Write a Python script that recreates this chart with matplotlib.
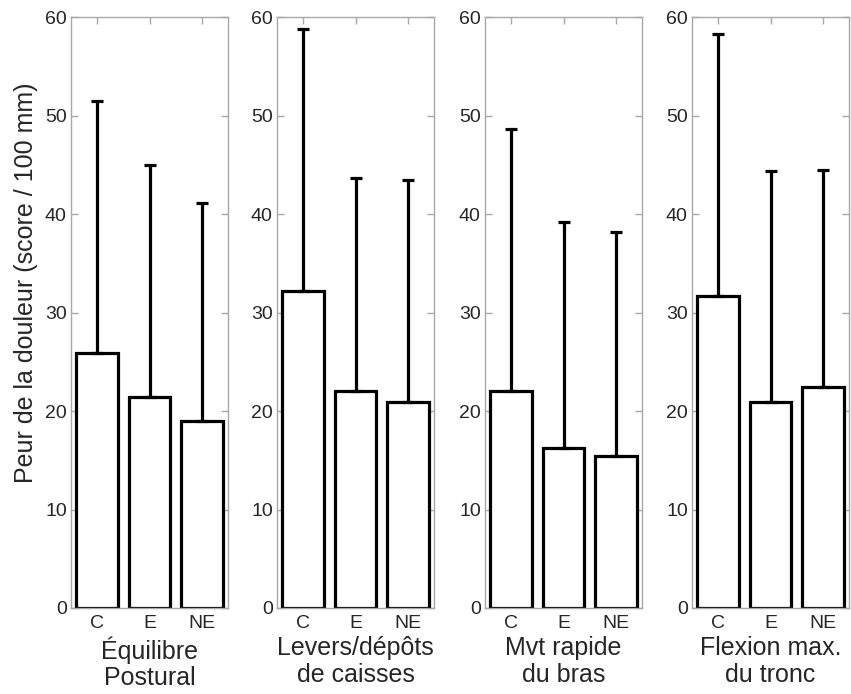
import matplotlib.pyplot as plt
import numpy as np

# ================= données =================
groupes = ['C', 'E', 'NE']
taches = ['Équilibre\nPostural', 'Levers/dépôts\nde caisses',
          'Mvt rapide\ndu bras', 'Flexion max.\ndu tronc']
moyennes = [
    [25.9, 21.4, 19.0],
    [32.2, 22.0, 20.9],
    [22.0, 16.2, 15.4],
    [31.7, 20.9, 22.4],
]
ecarts_types = [
    [25.6, 23.6, 22.1],
    [26.6, 21.7, 22.6],
    [26.6, 23.0, 22.8],
    [26.6, 23.5, 22.1],
]
y_ticks = [0, 10, 20, 30, 40, 50, 60]
# ===========================================

plt.rcParams['font.family'] = ['Liberation Sans', 'DejaVu Sans']

GRIS = '#a8a8a8'
TEXTE = '#262626'

fig = plt.figure(figsize=(8.51, 6.94), dpi=100)
lefts = [71, 277, 485, 692]

for i, left in enumerate(lefts):
    ax = fig.add_axes([left / 851, 86 / 694, 157 / 851, 591 / 694])
    x = np.arange(1, len(groupes) + 1)
    ax.bar(x, moyennes[i], width=0.8, color='white', edgecolor='black',
           linewidth=2.3, zorder=2)
    err = np.array(ecarts_types[i])
    ax.errorbar(x, moyennes[i], yerr=[np.zeros_like(err), err], fmt='none',
                ecolor='black', elinewidth=2.3, capsize=4.5, capthick=2.3,
                zorder=3)
    ax.set_xlim(0.5, 3.5)
    ax.set_ylim(0, 60)
    ax.set_xticks(x)
    ax.set_xticklabels(groupes)
    ax.set_yticks(y_ticks)
    ax.tick_params(direction='in', top=True, right=True, length=5,
                   width=1, color=GRIS, labelsize=14, labelcolor=TEXTE, pad=3)
    ax.tick_params(axis='x', pad=5)
    for s in ax.spines.values():
        s.set_color(GRIS)
        s.set_linewidth(1)
    ax.set_xlabel(taches[i], fontsize=18, color=TEXTE, labelpad=3,
                  linespacing=1.15)

fig.text(26 / 851, 411 / 694, 'Peur de la douleur (score / 100 mm)',
         rotation=90, ha='center', va='center', fontsize=18, color=TEXTE)

plt.savefig('out.png', dpi=100)
